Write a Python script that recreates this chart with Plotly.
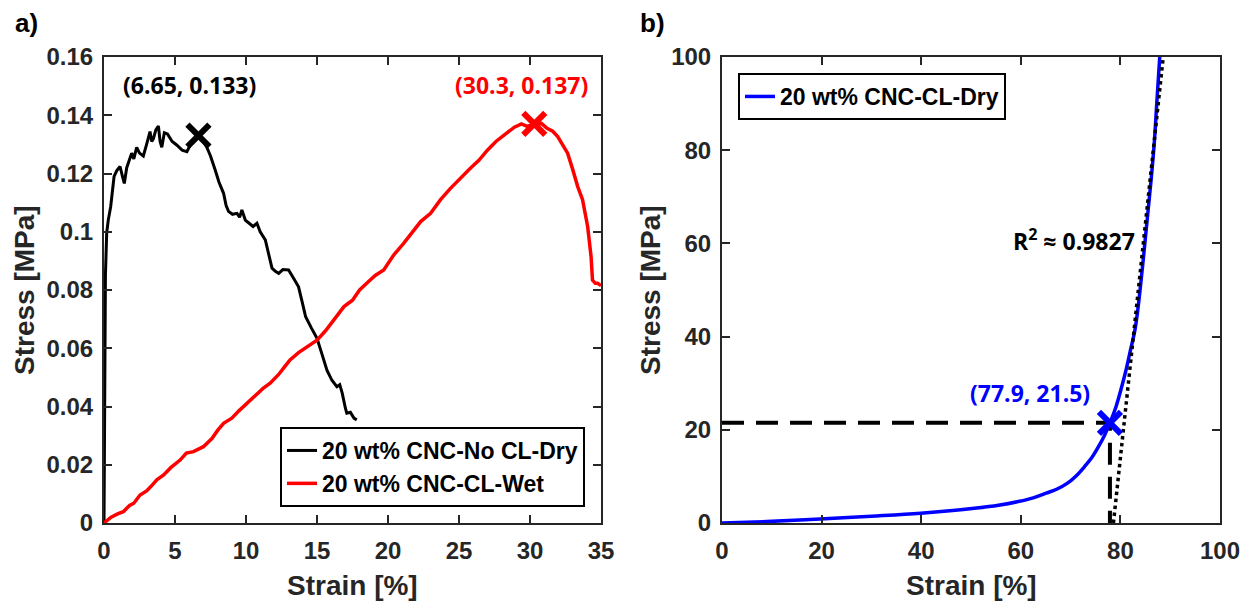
import plotly.graph_objects as go

# ---- panel a) : tensile curves ----
dry_nocl_strain = [0, 0.02, 0.05, 0.1, 0.19, 0.3, 0.47, 0.6, 0.71, 0.9, 1.13, 1.3, 1.43, 1.6,
                   1.95, 2.1, 2.3, 2.5, 2.77, 3.0, 3.24, 3.36, 3.48, 3.65, 3.83, 3.95, 4.07, 4.25,
                   4.47, 4.8, 5.12, 5.5, 5.84, 6.1, 6.4, 6.65, 6.9, 7.24, 7.5, 7.83, 8.1, 8.42,
                   8.6, 8.77, 9.05, 9.36, 9.55, 9.71, 9.95, 10.2, 10.5, 10.77, 11.0, 11.36, 11.6,
                   11.83, 12.05, 12.3, 12.6, 13.0, 13.35, 13.7, 13.95, 14.2, 14.6, 15.0, 15.35,
                   15.7, 16.05, 16.4, 16.6, 16.78, 17.0, 17.1, 17.35, 17.6, 17.8]
dry_nocl_stress = [0, 0.03, 0.06, 0.085, 0.0996, 0.104, 0.1086, 0.114, 0.119, 0.121, 0.1224,
                   0.119, 0.1166, 0.122, 0.127, 0.125, 0.129, 0.127, 0.126, 0.13, 0.1344, 0.131,
                   0.132, 0.135, 0.1363, 0.131, 0.129, 0.134, 0.1336, 0.131, 0.1298, 0.128,
                   0.1275, 0.13, 0.132, 0.133, 0.132, 0.129, 0.126, 0.1212, 0.117, 0.1132, 0.109,
                   0.107, 0.106, 0.1063, 0.105, 0.1075, 0.104, 0.103, 0.1018, 0.1029, 0.1, 0.0972,
                   0.092, 0.0875, 0.0865, 0.0857, 0.087, 0.0869, 0.084, 0.0811, 0.076, 0.0708,
                   0.067, 0.0634, 0.058, 0.0525, 0.049, 0.0468, 0.0475, 0.0445, 0.0394, 0.0377,
                   0.038, 0.036, 0.0354]

wet_cl_strain = [0, 0.5, 1.0, 1.36, 1.8, 2.1, 2.54, 3.0, 3.3, 3.72, 4.2, 4.7, 5.36, 5.8, 6.3,
                 7.0, 7.6, 8.0, 8.42, 9.0, 9.5, 10.07, 10.6, 11.2, 11.7, 12.3, 12.7, 13.1, 13.7,
                 14.3, 15.0, 15.6, 16.2, 16.9, 17.5, 18.0, 18.5, 19.1, 19.7, 20.4, 21.1, 21.7,
                 22.3, 23.0, 23.7, 24.4, 25.1, 25.8, 26.4, 27.0, 27.6, 28.2, 28.9, 29.4, 29.8,
                 30.3, 30.8, 31.2, 31.6, 31.95, 32.3, 32.65, 33.0, 33.36, 33.7, 34.06, 34.3,
                 34.4, 34.6, 34.76, 35.0]
wet_cl_stress = [0, 0.002, 0.0032, 0.0039, 0.006, 0.0068, 0.0096, 0.011, 0.0125, 0.0148, 0.0165,
                 0.019, 0.0216, 0.024, 0.0245, 0.0262, 0.029, 0.0318, 0.0342, 0.036, 0.0385,
                 0.0411, 0.0432, 0.0462, 0.048, 0.051, 0.0535, 0.056, 0.0585, 0.0605, 0.0628,
                 0.066, 0.07, 0.0743, 0.0765, 0.08, 0.0823, 0.085, 0.0869, 0.092, 0.096, 0.1,
                 0.1035, 0.1063, 0.111, 0.1149, 0.1185, 0.1218, 0.1245, 0.128, 0.131, 0.1332,
                 0.1359, 0.137, 0.1362, 0.137, 0.1372, 0.1355, 0.1345, 0.1327, 0.13, 0.127,
                 0.1215, 0.1155, 0.111, 0.1018, 0.0915, 0.0834, 0.0823, 0.0823, 0.0815]

peak_a_strain = [6.65, 30.3]
peak_a_stress = [0.133, 0.137]

# ---- panel b) : crosslinked dry film ----
dry_cl_strain = [0, 5, 10, 19.7, 30, 39.9, 51.1, 55.5, 59.5, 62.5, 65.1, 67.3, 69.3, 71.1,
                 72.8, 74.3, 75.6, 76.8, 77.9, 79.1, 80.1, 81.1, 82.0, 82.9, 83.5, 84.0, 84.5,
                 85.0, 85.6, 86.2, 86.8, 87.3, 87.9]
dry_cl_stress = [0, 0.15, 0.35, 0.85, 1.45, 2.1, 3.2, 3.8, 4.6, 5.4, 6.4, 7.3, 8.5, 10.1,
                 12.1, 14.1, 16.4, 18.8, 21.5, 24.9, 28.6, 32.7, 37.0, 41.3, 45.8, 50.5, 55.6,
                 61.0, 67.5, 74.0, 81.5, 90.0, 100]

fit_strain = [78.6, 88.6]
fit_stress = [0, 100]

yield_strain = 77.9
yield_stress = 21.5
r_squared = 0.9827

# axis ticks
xa_ticks = [0, 5, 10, 15, 20, 25, 30, 35]
ya_ticks = [0, 0.02, 0.04, 0.06, 0.08, 0.1, 0.12, 0.14, 0.16]
ya_labels = ["0", "0.02", "0.04", "0.06", "0.08", "0.1", "0.12", "0.14", "0.16"]
xb_ticks = [0, 20, 40, 60, 80, 100]
yb_ticks = [0, 20, 40, 60, 80, 100]

W, H = 1257, 603
AX = "#262626"
SANS = "Liberation Sans"
TICK_FONT = dict(family=SANS, size=24, color=AX, weight="bold")
NOTE = dict(family="Open Sans", size=23, weight="bold")

fig = go.Figure()

fig.add_trace(go.Scatter(x=dry_nocl_strain, y=dry_nocl_stress, mode="lines",
                         line=dict(color="black", width=3), name="20 wt% CNC-No CL-Dry",
                         xaxis="x", yaxis="y", legend="legend"))
fig.add_trace(go.Scatter(x=wet_cl_strain, y=wet_cl_stress, mode="lines",
                         line=dict(color="#ff0000", width=3.5), name="20 wt% CNC-CL-Wet",
                         xaxis="x", yaxis="y", legend="legend"))
fig.add_trace(go.Scatter(x=peak_a_strain, y=peak_a_stress, mode="markers", showlegend=False,
                         marker=dict(symbol="x-thin", size=22,
                                     line=dict(width=6, color=["black", "#ff0000"])),
                         xaxis="x", yaxis="y"))

# panel b
fig.add_trace(go.Scatter(x=[0, yield_strain, yield_strain], y=[yield_stress, yield_stress, 0],
                         mode="lines", showlegend=False,
                         line=dict(color="black", width=4, dash="22px,12px"),
                         xaxis="x2", yaxis="y2"))
fig.add_trace(go.Scatter(x=dry_cl_strain, y=dry_cl_stress, mode="lines", line_shape="spline",
                         line=dict(color="#0000ff", width=3.5), name="20 wt% CNC-CL-Dry",
                         xaxis="x2", yaxis="y2", legend="legend2"))
fig.add_trace(go.Scatter(x=fit_strain, y=fit_stress, mode="lines", showlegend=False,
                         line=dict(color="black", width=3.5, dash="dot"),
                         xaxis="x2", yaxis="y2"))
fig.add_trace(go.Scatter(x=[yield_strain], y=[yield_stress], mode="markers", showlegend=False,
                         marker=dict(symbol="x-thin", size=22, line=dict(width=6, color="#0000ff")),
                         xaxis="x2", yaxis="y2"))

ydom = [1 - 523 / H, 1 - 57 / H]
common = dict(showline=True, linewidth=2, linecolor=AX, mirror="ticks", ticks="inside",
              ticklen=8, tickwidth=2, tickcolor=AX, showgrid=False, zeroline=False,
              tickfont=TICK_FONT, automargin=False)
legend_font = dict(family=SANS, size=23, color="black", weight="bold")

fig.update_layout(
    width=W, height=H, margin=dict(l=0, r=0, t=0, b=0),
    paper_bgcolor="white", plot_bgcolor="white",
    xaxis=dict(domain=[104 / W, 601 / W], range=[0, 35], tickvals=xa_ticks,
               ticklabelstandoff=5, anchor="y", **common),
    yaxis=dict(domain=ydom, range=[0, 0.16], tickvals=ya_ticks, ticktext=ya_labels,
               ticklabelstandoff=4, anchor="x", **common),
    xaxis2=dict(domain=[722 / W, 1220 / W], range=[0, 100], tickvals=xb_ticks,
                ticklabelstandoff=5, anchor="y2", **common),
    yaxis2=dict(domain=ydom, range=[0, 100], tickvals=yb_ticks,
                ticklabelstandoff=4, anchor="x2", **common),
    legend=dict(x=585 / W, y=1 - 427 / H, xanchor="right", yanchor="top",
                bordercolor="black", borderwidth=2, bgcolor="white",
                font=legend_font, itemwidth=30, tracegroupgap=0),
    legend2=dict(x=738 / W, y=1 - 73 / H, xanchor="left", yanchor="top",
                 bordercolor="black", borderwidth=2, bgcolor="white",
                 font=legend_font, itemwidth=30),
)

title_font = dict(family=SANS, size=28, color=AX, weight="bold")
ann = []
# axis titles
for cx in (352, 971):
    ann.append(dict(text="Strain [%]", x=cx / W, y=1 - 585 / H, xref="paper", yref="paper",
                    showarrow=False, font=title_font, xanchor="center", yanchor="middle"))
for cx in (24, 650):
    ann.append(dict(text="Stress [MPa]", x=cx / W, y=1 - 290 / H, xref="paper", yref="paper",
                    showarrow=False, font=title_font, textangle=-90,
                    xanchor="center", yanchor="middle"))
# panel letters
panel_font = dict(family=SANS, size=26, color="black", weight="bold")
for txt, cx in (("a)", 27), ("b)", 652)):
    ann.append(dict(text=txt, x=cx / W, y=1 - 23 / H, xref="paper", yref="paper",
                    showarrow=False, font=panel_font, xanchor="center", yanchor="middle"))
# peak labels
ann.append(dict(text=f"({peak_a_strain[0]}, {peak_a_stress[0]})", x=6.0, y=0.1503,
                xref="x", yref="y", showarrow=False, font=dict(NOTE, color="black")))
ann.append(dict(text=f"({peak_a_strain[1]}, {peak_a_stress[1]})", x=29.4, y=0.1503,
                xref="x", yref="y", showarrow=False, font=dict(NOTE, color="#ff0000")))
ann.append(dict(text=f"({yield_strain}, {yield_stress})", x=61.9, y=27.8,
                xref="x2", yref="y2", showarrow=False, font=dict(NOTE, color="#0000ff")))
ann.append(dict(text=f"R<sup>2</sup> ≈ {r_squared}", x=70.6, y=60.8,
                xref="x2", yref="y2", showarrow=False, font=dict(NOTE, color="black")))
fig.update_layout(annotations=ann)

fig.write_html("out.html")
